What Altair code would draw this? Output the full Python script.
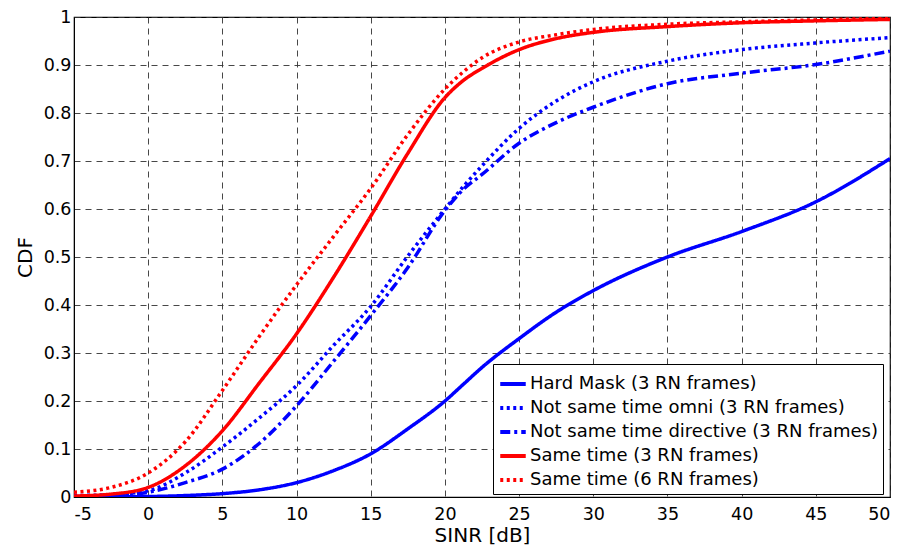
import altair as alt
import pandas as pd

sinr = [-5, -2.5, 0, 2.5, 5, 7.5, 10, 12.5, 15, 17.5, 20, 21.25, 22.5, 25, 27.5, 30, 35, 40, 45, 50]

hard_mask = [0.0, 0.0005, 0.001, 0.003, 0.007, 0.015, 0.03, 0.055, 0.09, 0.142, 0.2, 0.235, 0.27, 0.33, 0.385, 0.43, 0.5, 0.553, 0.615, 0.705]
omni = [0.003, 0.005, 0.013, 0.05, 0.104, 0.165, 0.232, 0.316, 0.397, 0.502, 0.6, 0.647, 0.69, 0.768, 0.825, 0.865, 0.908, 0.932, 0.946, 0.957]
directive = [0.001, 0.003, 0.01, 0.03, 0.058, 0.112, 0.19, 0.283, 0.378, 0.478, 0.597, 0.641, 0.672, 0.737, 0.78, 0.812, 0.861, 0.883, 0.901, 0.929]
same3 = [0.002, 0.006, 0.02, 0.065, 0.138, 0.238, 0.34, 0.458, 0.585, 0.716, 0.832, 0.868, 0.893, 0.932, 0.955, 0.968, 0.98, 0.988, 0.992, 0.995]
same6 = [0.01, 0.02, 0.05, 0.115, 0.222, 0.335, 0.442, 0.543, 0.643, 0.755, 0.85, 0.886, 0.915, 0.948, 0.963, 0.974, 0.985, 0.99, 0.994, 0.997]

names = [
    "Hard Mask (3 RN frames)",
    "Not same time omni (3 RN frames)",
    "Not same time directive (3 RN frames)",
    "Same time (3 RN frames)",
    "Same time (6 RN frames)",
]
series = [hard_mask, omni, directive, same3, same6]
colors = ["#0000FF", "#0000FF", "#0000FF", "#FF0000", "#FF0000"]
dashes = [[1, 0], [3, 3.5], [10, 4, 3, 4], [1, 0], [3, 3.5]]

rows = []
for n, s in zip(names, series):
    for x, y in zip(sinr, s):
        rows.append({"SINR": x, "CDF": y, "series": n})
df = pd.DataFrame(rows)

font = "DejaVu Sans"

chart = alt.Chart(df).mark_line(strokeWidth=3.5, interpolate="monotone", clip=True).encode(
    x=alt.X("SINR:Q", scale=alt.Scale(domain=[-5, 50], nice=False, zero=False),
            axis=alt.Axis(title="SINR [dB]", values=list(range(-5, 51, 5)),
                          labelExpr="'' + datum.value")),
    y=alt.Y("CDF:Q", scale=alt.Scale(domain=[0, 1], nice=False),
            axis=alt.Axis(title="CDF", values=[i / 10 for i in range(11)], format=".1~f")),
    color=alt.Color("series:N", scale=alt.Scale(domain=names, range=colors),
                    legend=alt.Legend(title=None, orient="none", legendX=419, legendY=347)),
    strokeDash=alt.StrokeDash("series:N", scale=alt.Scale(domain=names, range=dashes), legend=None),
).properties(
    width=816, height=480,
    autosize=alt.AutoSizeParams(type="none"),
    padding={"left": 66, "top": 9, "right": 8, "bottom": 55},
).configure_view(
    stroke="black", strokeWidth=1.2
).configure_axis(
    grid=True, gridColor="#333333", gridDash=[6, 5], gridWidth=1, gridOpacity=0.9,
    domainColor="black", ticks=False,
    labelFont=font, labelFontSize=17.5, labelColor="black",
    titleFont=font, titleFontSize=20, titleColor="black", titleFontWeight="normal",
    labelPadding=3,
).configure_axisX(
    titlePadding=3, labelPadding=8
).configure_axisY(
    titlePadding=8
).configure_legend(
    symbolType="stroke", symbolSize=650, symbolStrokeWidth=4,
    labelFont=font, labelFontSize=18, labelColor="black", labelLimit=0,
    strokeColor="black", fillColor="white", padding=5, rowPadding=0,
    labelOffset=2, cornerRadius=0,
)

chart.save("out.html", embed_options={"renderer": "svg", "actions": False})
